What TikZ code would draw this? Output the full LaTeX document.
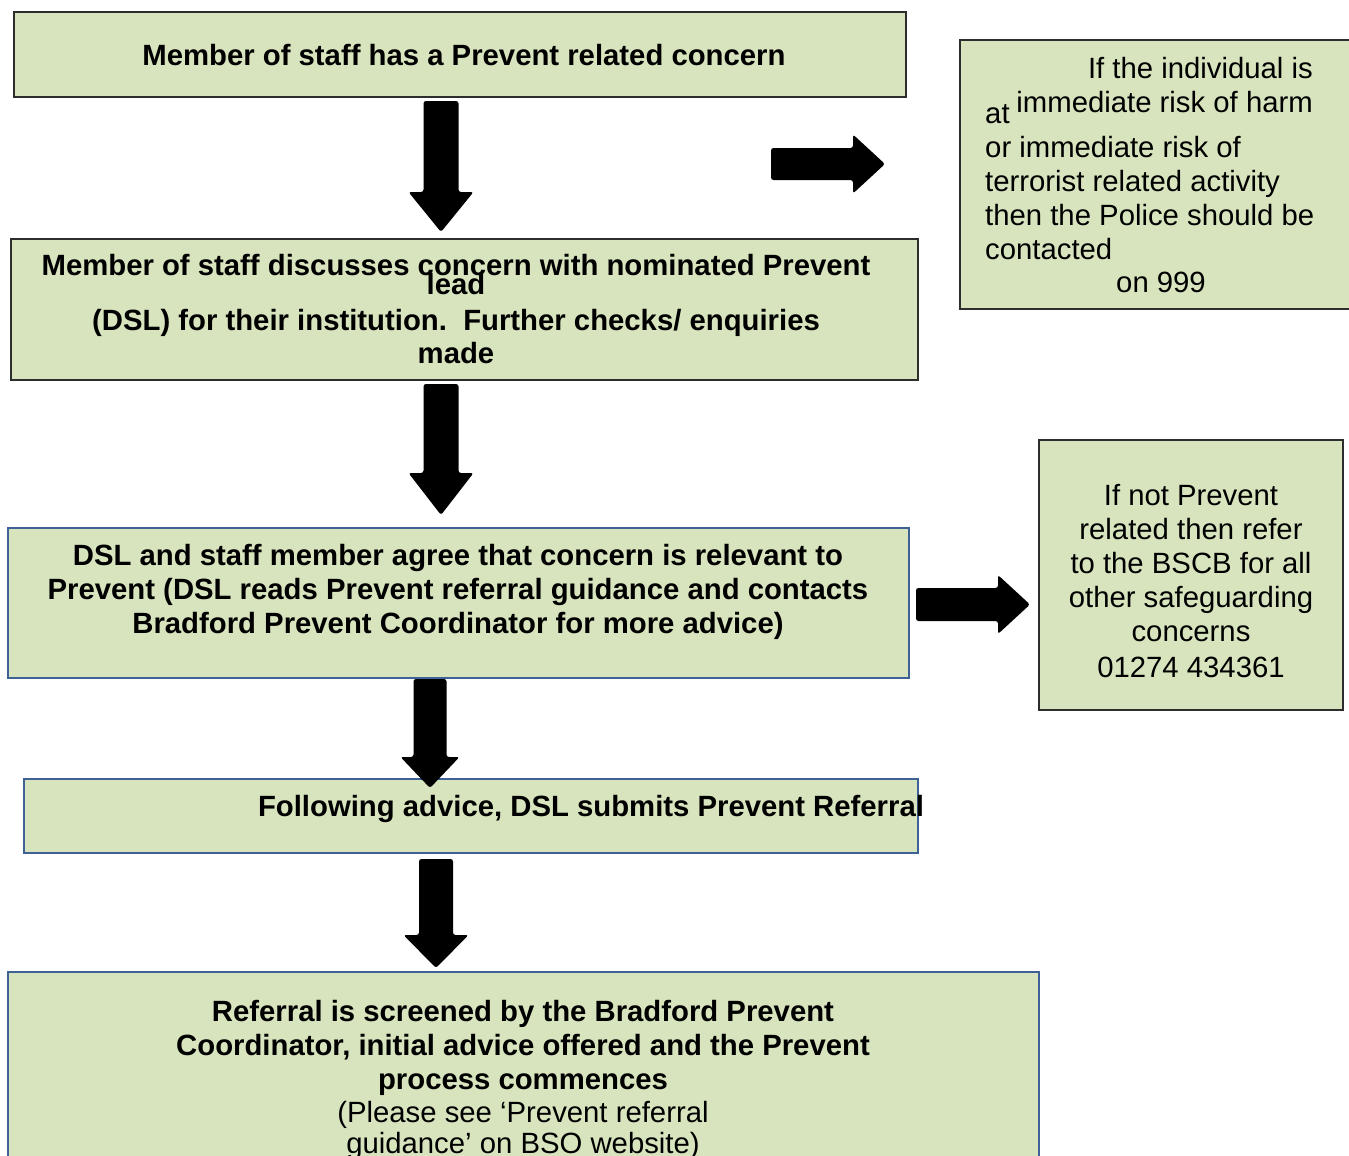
\documentclass[tikz,border=0pt]{standalone}
\usepackage{fontspec}
\setmainfont{Liberation Sans}
\definecolor{boxfill}{RGB}{215,228,189}
\definecolor{boxgray}{RGB}{45,45,45}
\definecolor{boxblue}{RGB}{62,98,150}
\newcommand\BlkDown[6]{% cx, top, neck, tip, shaft half, head half
  \fill[arrowblk] ({#1-#5},#2) -- ({#1+#5},#2) -- ({#1+#5},#3) -- ({#1+#6},#3) -- (#1,#4) -- ({#1-#6},#3) -- ({#1-#5},#3) -- cycle;}
\newcommand\BlkRight[6]{% cy, left, neck, tip, shaft half, head half
  \fill[arrowblk] (#2,{#1-#5}) -- (#3,{#1-#5}) -- (#3,{#1-#6}) -- (#4,#1) -- (#3,{#1+#6}) -- (#3,{#1+#5}) -- (#2,{#1+#5}) -- cycle;}
\begin{document}
\begin{tikzpicture}[x=1pt,y=-1pt,
  box/.style={draw=boxgray, fill=boxfill, line width=1.2pt, inner sep=0pt, outer sep=0pt, anchor=north west},
  bluebox/.style={box, draw=boxblue},
  bt/.style={font=\fontsize{29.3}{34}\selectfont\bfseries, inner sep=0pt, text=black},
  rt/.style={font=\fontsize{29.3}{34}\selectfont, inner sep=0pt, text=black},
  arrowblk/.style={fill=black, rounded corners=2.5pt}]
\useasboundingbox (0,0) rectangle (1349,1156);
\fill[white] (0,0) rectangle (1349,1156);

% boxes
\node[box, minimum width=892pt, minimum height=85pt] (b1) at (14,12) {};
\node[box, minimum width=392pt, minimum height=269pt] (bA) at (960,40) {};
\node[box, minimum width=907pt, minimum height=141pt] (b2) at (11,239) {};
\node[bluebox, minimum width=901pt, minimum height=150pt] (b3) at (8,528) {};
\node[box, minimum width=304pt, minimum height=270pt] (bB) at (1039,440) {};
\node[bluebox, minimum width=894pt, minimum height=74pt] (b4) at (24,779) {};
\node[bluebox, minimum width=1031pt, minimum height=200pt] (b5) at (8,972) {};

% texts
\node[bt, anchor=base] (t1) at (464,66) {Member of staff has a Prevent related concern};
\node[bt, anchor=north, align=center] (t2) at (456,254)
  {Member of staff discusses concern with nominated Prevent\\[-15pt]lead\\[2pt](DSL) for their institution.\ \ Further checks/ enquiries\\[-1pt]made};
\node[bt, anchor=north, align=center] (t3) at (458,544)
  {DSL and staff member agree that concern is relevant to\\Prevent (DSL reads Prevent referral guidance and contacts\\Bradford Prevent Coordinator for more advice)};
\node[bt, anchor=base] (t4) at (591,816) {Following advice, DSL submits Prevent Referral};
\node[bt, anchor=north, align=center] (t5) at (523,1000)
  {Referral is screened by the Bradford Prevent\\Coordinator, initial advice offered and the Prevent\\process commences\\[-1pt]\mdseries(Please see ‘Prevent referral\\[-3pt]\mdseries guidance’ on BSO website)};

\node[rt, anchor=north east, align=right] (ta1) at (1313,57) {If the individual is\\immediate risk of harm};
\node[rt, anchor=base west] (ta2) at (985,123) {at};
\node[rt, anchor=north west, align=left] (ta3) at (985,136)
  {or immediate risk of\\terrorist related activity\\then the Police should be\\contacted};
\node[rt, anchor=base west] (ta4) at (1116,292) {on 999};

\node[rt, anchor=north, align=center] (tb) at (1191,484)
  {If not Prevent\\related then refer\\to the BSCB for all\\other safeguarding\\concerns\\[2pt]01274 434361};

% block arrows
\BlkDown{441}{101}{192}{232}{17.5}{32.5}
\BlkDown{441}{384}{473}{515}{17.5}{32.5}
\BlkDown{430}{679}{757}{788}{16.5}{29.5}
\BlkDown{436}{859}{935}{968}{17}{32.5}
\BlkRight{164}{771}{853}{885}{16}{29.5}
\BlkRight{604.5}{916}{998}{1030}{16.5}{29.5}
\end{tikzpicture}
\end{document}
